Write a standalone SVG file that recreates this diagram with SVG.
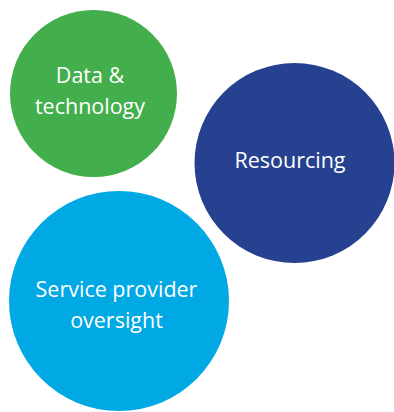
<svg xmlns="http://www.w3.org/2000/svg" width="394" height="412" viewBox="0 0 394 412">
<style>
.lbl{font-family:"Open Sans","Noto Sans",sans-serif;font-size:21.5px;fill:#ffffff;text-anchor:middle}
</style>
<rect width="394" height="412" fill="#ffffff"/>
<g id="data-technology">
<circle cx="93.5" cy="93.5" r="83.5" fill="#43ae4c"/>
<text class="lbl" x="90" y="83">Data &amp;</text>
<text class="lbl" x="90" y="114">technology</text>
</g>
<g id="resourcing">
<circle cx="294.5" cy="163" r="100" fill="#26418f"/>
<text class="lbl" x="290" y="168">Resourcing</text>
</g>
<g id="service-provider-oversight">
<circle cx="119" cy="301" r="110" fill="#00a8e4"/>
<text class="lbl" x="116.5" y="297">Service provider</text>
<text class="lbl" x="116.5" y="328">oversight</text>
</g>
<g id="connectors"></g>
</svg>
